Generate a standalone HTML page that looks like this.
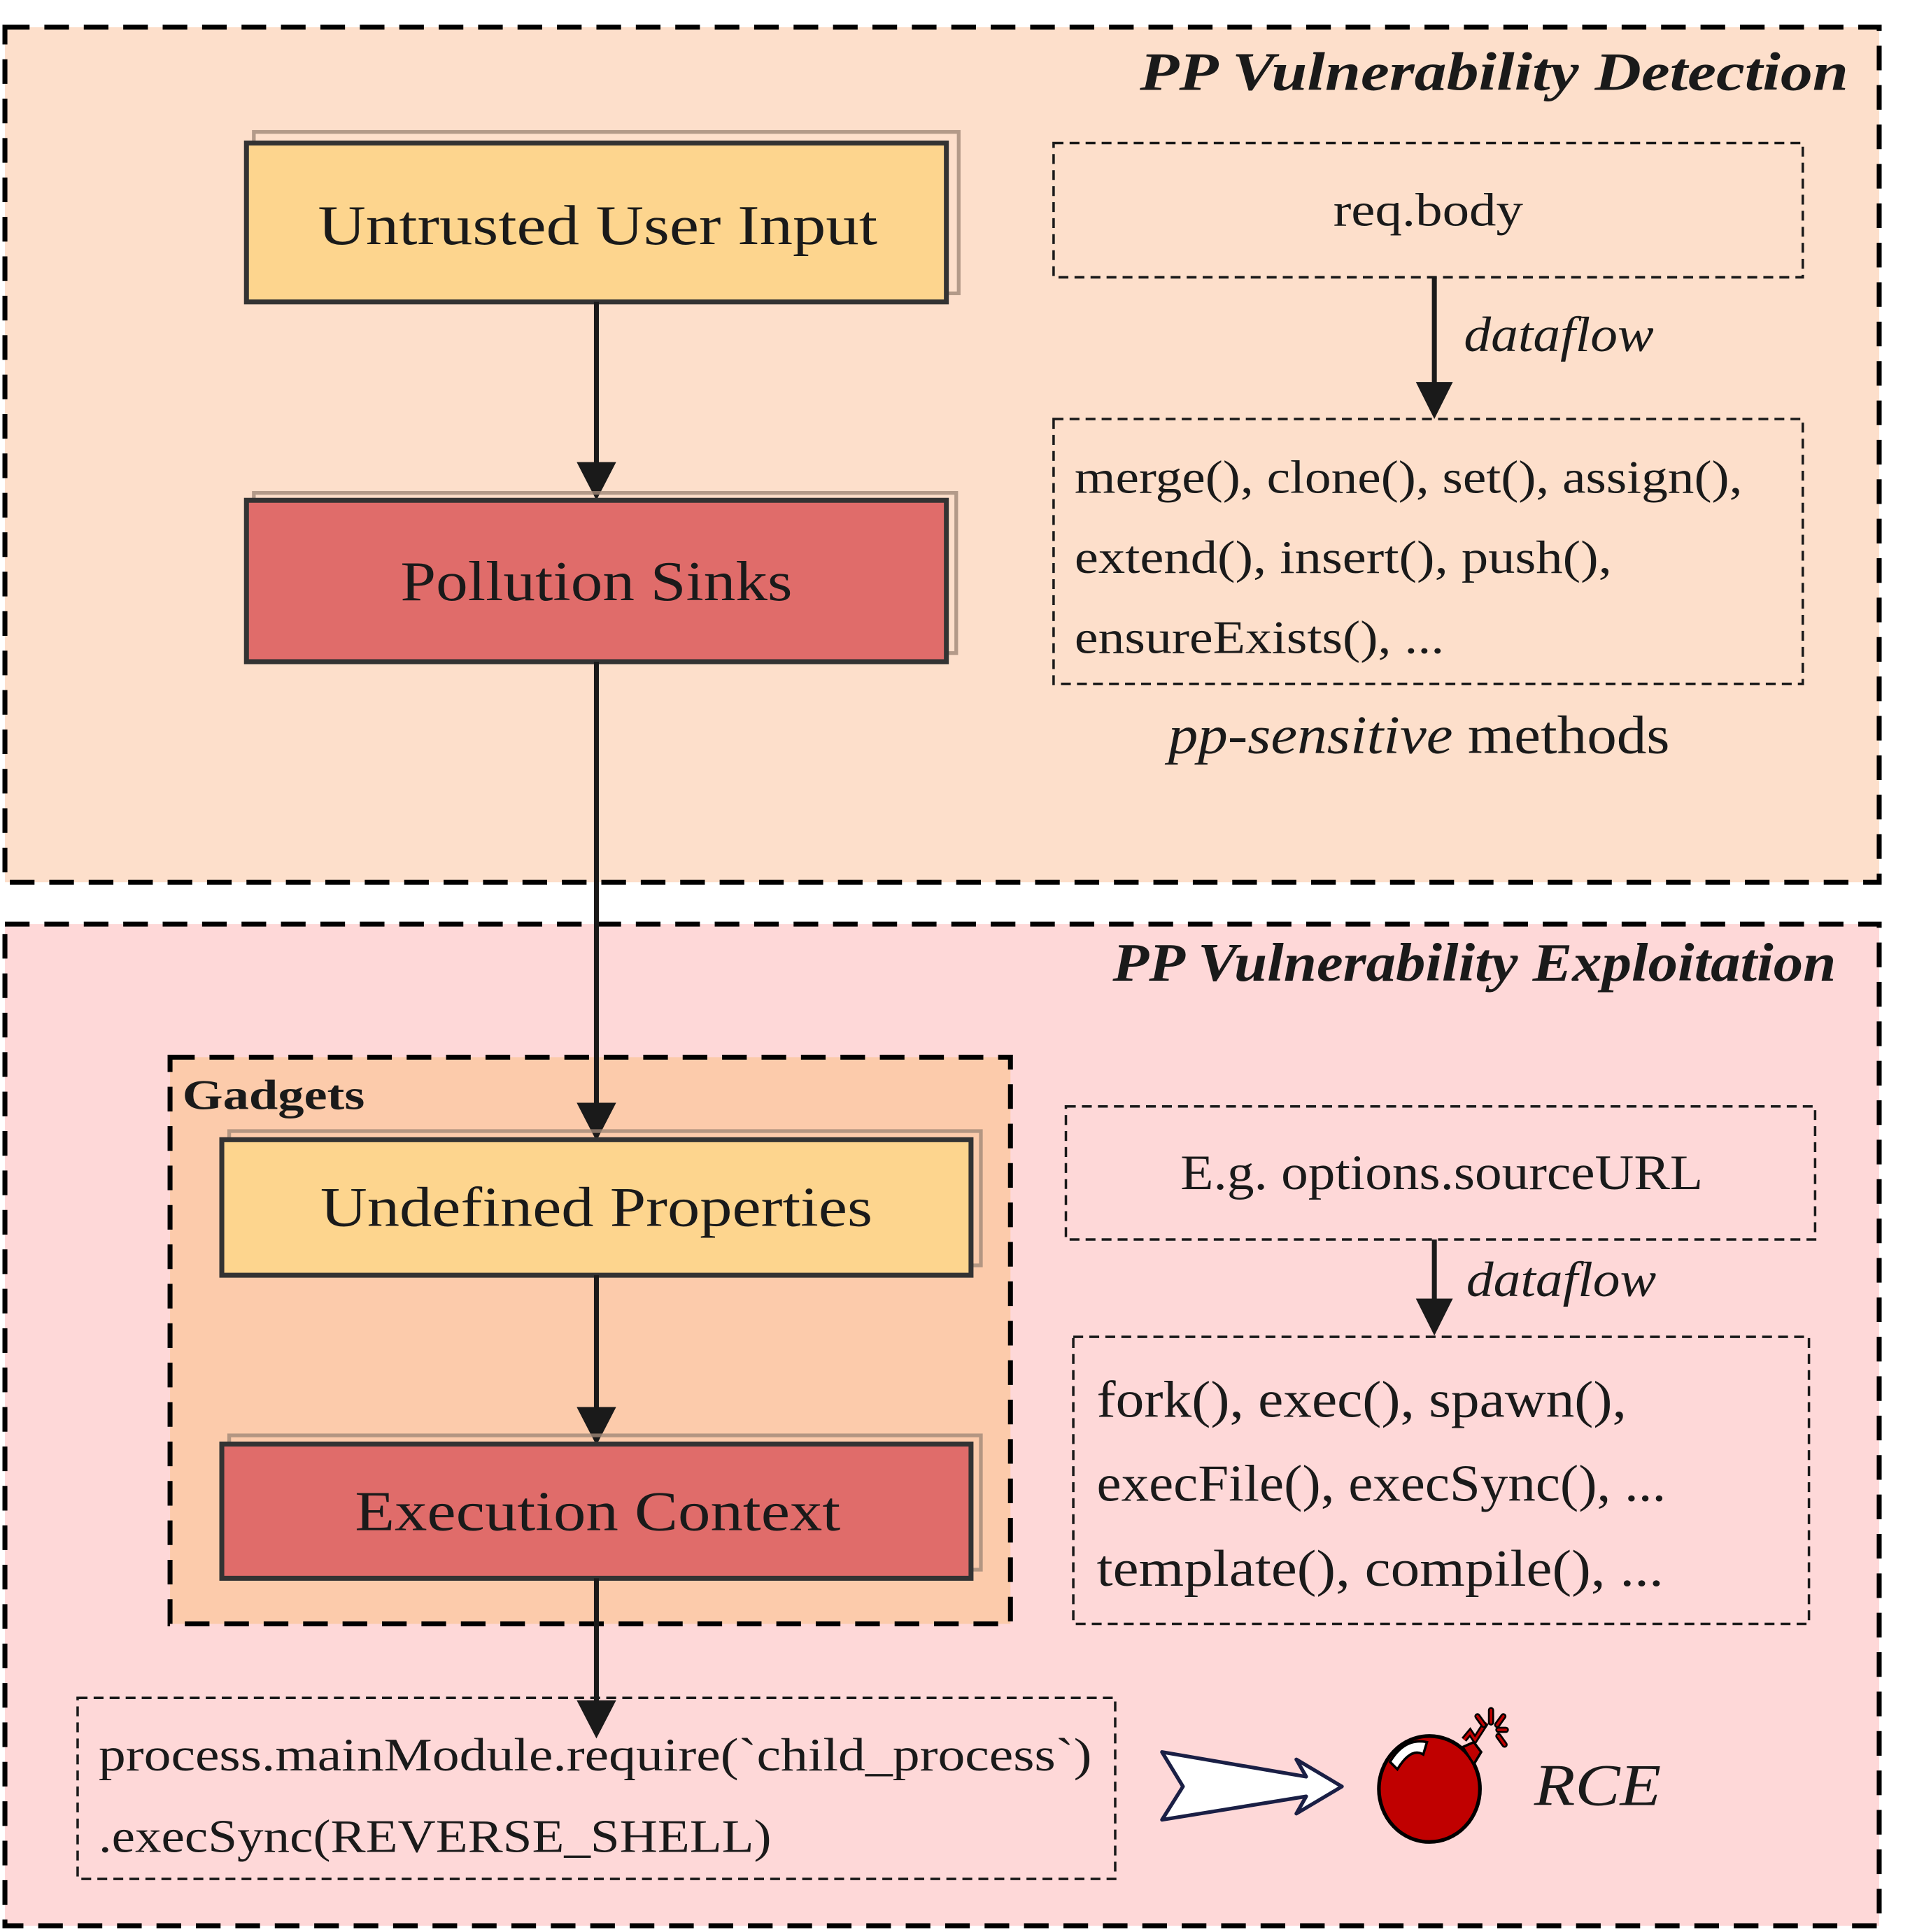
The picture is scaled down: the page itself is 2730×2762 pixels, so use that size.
<!DOCTYPE html>
<html><head><meta charset="utf-8"><style>
html,body{margin:0;padding:0;background:#fff}
svg{display:block}
text{font-family:"Liberation Serif",serif;fill:#1a1a1a}
</style></head><body>
<svg width="2730" height="2762" viewBox="0 0 1550 1568" xmlns="http://www.w3.org/2000/svg">
<!-- Detection panel -->
<rect x="4" y="22" width="1521" height="694" fill="#fddfcb" stroke="#000" stroke-width="4" stroke-dasharray="20,12"/>
<text x="925" y="73" font-size="44" font-weight="bold" font-style="italic" textLength="575" lengthAdjust="spacingAndGlyphs">PP Vulnerability Detection</text>

<rect x="206" y="107" width="572" height="131" fill="none" stroke="#a08878" stroke-width="3" opacity="0.8"/>
<rect x="200" y="116" width="568" height="129" fill="#fdd58e" stroke="#333" stroke-width="4"/>
<text x="258" y="198" font-size="46" textLength="454" lengthAdjust="spacingAndGlyphs">Untrusted User Input</text>

<line x1="484" y1="245" x2="484" y2="380" stroke="#1a1a1a" stroke-width="4"/>
<polygon points="468,375 500,375 484,406" fill="#1a1a1a"/>

<rect x="206" y="400" width="570" height="130" fill="none" stroke="#a08878" stroke-width="3" opacity="0.8"/>
<rect x="200" y="406" width="568" height="131" fill="#e06c6a" stroke="#333" stroke-width="4"/>
<text x="325" y="487" font-size="46" textLength="318" lengthAdjust="spacingAndGlyphs">Pollution Sinks</text>

<rect x="855" y="116" width="608" height="109" fill="none" stroke="#1a1a1a" stroke-width="2" stroke-dasharray="8,5"/>
<text x="1082" y="183" font-size="38" textLength="154" lengthAdjust="spacingAndGlyphs">req.body</text>
<line x1="1164" y1="225" x2="1164" y2="315" stroke="#1a1a1a" stroke-width="4"/>
<polygon points="1149,310 1179,310 1164,340" fill="#1a1a1a"/>
<text x="1188" y="285" font-size="40" font-style="italic" textLength="154" lengthAdjust="spacingAndGlyphs">dataflow</text>

<rect x="855" y="340" width="608" height="215" fill="none" stroke="#1a1a1a" stroke-width="2" stroke-dasharray="8,5"/>
<text x="872" y="400" font-size="38" textLength="542" lengthAdjust="spacingAndGlyphs">merge(), clone(), set(), assign(),</text>
<text x="872" y="465" font-size="38" textLength="436" lengthAdjust="spacingAndGlyphs">extend(), insert(), push(),</text>
<text x="872" y="530" font-size="38" textLength="300" lengthAdjust="spacingAndGlyphs">ensureExists(), ...</text>
<text x="948" y="611" font-size="44" textLength="407" lengthAdjust="spacingAndGlyphs"><tspan font-style="italic">pp-sensitive</tspan> methods</text>

<!-- Exploitation panel -->
<rect x="4" y="750" width="1521" height="813" fill="#fed8d8" stroke="#000" stroke-width="4" stroke-dasharray="20,12"/>
<text x="903" y="796" font-size="44" font-weight="bold" font-style="italic" textLength="587" lengthAdjust="spacingAndGlyphs">PP Vulnerability Exploitation</text>

<rect x="138" y="858" width="682" height="460" fill="#fccbab" stroke="#000" stroke-width="4" stroke-dasharray="20,12"/>
<text x="148" y="900" font-size="34" font-weight="bold" textLength="148" lengthAdjust="spacingAndGlyphs">Gadgets</text>

<line x1="484" y1="537" x2="484" y2="900" stroke="#1a1a1a" stroke-width="4"/>
<polygon points="468,895 500,895 484,926" fill="#1a1a1a"/>

<rect x="186" y="918" width="610" height="109" fill="none" stroke="#a08878" stroke-width="3" opacity="0.8"/>
<rect x="180" y="925" width="608" height="110" fill="#fdd58e" stroke="#333" stroke-width="4"/>
<text x="260" y="995" font-size="46" textLength="448" lengthAdjust="spacingAndGlyphs">Undefined Properties</text>

<line x1="484" y1="1035" x2="484" y2="1147" stroke="#1a1a1a" stroke-width="4"/>
<polygon points="468,1142 500,1142 484,1173" fill="#1a1a1a"/>

<rect x="186" y="1165" width="610" height="109" fill="none" stroke="#a08878" stroke-width="3" opacity="0.8"/>
<rect x="180" y="1172" width="608" height="109" fill="#e06c6a" stroke="#333" stroke-width="4"/>
<text x="288" y="1242" font-size="46" textLength="394" lengthAdjust="spacingAndGlyphs">Execution Context</text>

<line x1="484" y1="1281" x2="484" y2="1385" stroke="#1a1a1a" stroke-width="4"/>
<polygon points="468,1380 500,1380 484,1411" fill="#1a1a1a"/>

<rect x="865" y="898" width="608" height="108" fill="none" stroke="#1a1a1a" stroke-width="2" stroke-dasharray="8,5"/>
<text x="958" y="965" font-size="40" textLength="424" lengthAdjust="spacingAndGlyphs">E.g. options.sourceURL</text>
<line x1="1164" y1="1006" x2="1164" y2="1058" stroke="#1a1a1a" stroke-width="4"/>
<polygon points="1149,1054 1179,1054 1164,1084" fill="#1a1a1a"/>
<text x="1190" y="1052" font-size="40" font-style="italic" textLength="154" lengthAdjust="spacingAndGlyphs">dataflow</text>

<rect x="871" y="1085" width="597" height="233" fill="none" stroke="#1a1a1a" stroke-width="2" stroke-dasharray="8,5"/>
<text x="890" y="1150" font-size="42" textLength="430" lengthAdjust="spacingAndGlyphs">fork(), exec(), spawn(),</text>
<text x="890" y="1218" font-size="42" textLength="462" lengthAdjust="spacingAndGlyphs">execFile(), execSync(), ...</text>
<text x="890" y="1287" font-size="42" textLength="460" lengthAdjust="spacingAndGlyphs">template(), compile(), ...</text>

<rect x="63" y="1378" width="842" height="147" fill="none" stroke="#1a1a1a" stroke-width="2" stroke-dasharray="8,5"/>
<text x="80" y="1437" font-size="38" textLength="806" lengthAdjust="spacingAndGlyphs">process.mainModule.require(`child_process`)</text>
<text x="80" y="1503" font-size="38" textLength="546" lengthAdjust="spacingAndGlyphs">.execSync(REVERSE_SHELL)</text>

<!-- big arrow -->
<polygon points="943,1422 960,1450 943,1477 1060,1458 1052,1472 1089,1450 1052,1428 1060,1442" fill="#fff" stroke="#1a1f45" stroke-width="3" stroke-linejoin="round"/>

<!-- bomb -->
<path d="M1188,1412 L1193,1406 L1197,1412 L1206,1398" fill="none" stroke="#000" stroke-width="5"/>
<path d="M1188,1412 L1193,1406 L1197,1412 L1206,1398" fill="none" stroke="#c00000" stroke-width="2"/>
<ellipse cx="1160" cy="1452" rx="41" ry="43" fill="#c00000" stroke="#000" stroke-width="3"/>
<path d="M1187,1418 L1196,1414 L1202,1422 L1196,1432 Z" fill="#c00000" stroke="#000" stroke-width="2"/>
<path d="M1128,1430 Q1140,1410 1158,1414 L1155,1424 Q1145,1418 1134,1436 Z" fill="#fff" stroke="#000" stroke-width="2"/>
<g stroke="#000" stroke-width="5" stroke-linecap="round">
<line x1="1210" y1="1388" x2="1210" y2="1398"/><line x1="1199" y1="1393" x2="1204" y2="1400"/>
<line x1="1220" y1="1393" x2="1215" y2="1400"/><line x1="1216" y1="1404" x2="1222" y2="1404"/>
<line x1="1216" y1="1409" x2="1221" y2="1416"/></g>
<g stroke="#c00000" stroke-width="2" stroke-linecap="round">
<line x1="1210" y1="1388" x2="1210" y2="1398"/><line x1="1199" y1="1393" x2="1204" y2="1400"/>
<line x1="1220" y1="1393" x2="1215" y2="1400"/><line x1="1216" y1="1404" x2="1222" y2="1404"/>
<line x1="1216" y1="1409" x2="1221" y2="1416"/></g>
<text x="1245" y="1465" font-size="48" font-style="italic" textLength="103" lengthAdjust="spacingAndGlyphs">RCE</text>
</svg>
</body></html>
